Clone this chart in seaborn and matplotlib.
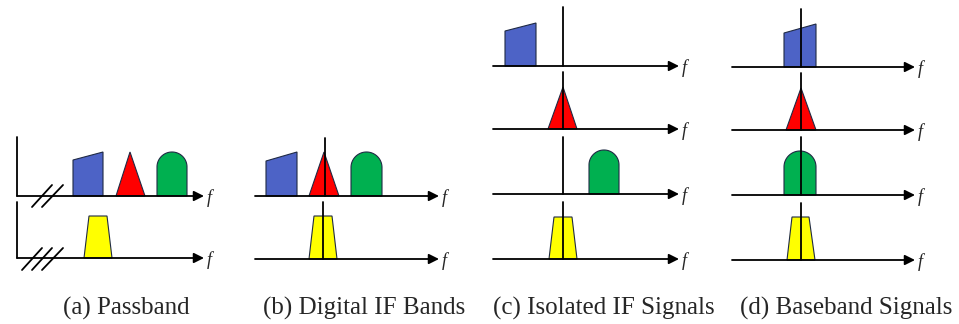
import numpy as np
import pandas as pd
import seaborn as sns
import matplotlib.pyplot as plt
from matplotlib.patches import Polygon

sns.set_theme(style="white")

# captions under each panel
captions = ["(a) Passband", "(b) Digital IF Bands", "(c) Isolated IF Signals", "(d) Baseband Signals"]
caption_x = [126, 364, 604, 846]

# frequency axes: baseline y, start x, end x  (pixel space of the figure)
axis_y = [196, 258, 196, 259, 66, 129, 194, 259, 67, 130, 195, 260]
axis_x0 = [17, 17, 255, 255, 493, 493, 493, 493, 732, 732, 732, 732]
axis_x1 = [204, 204, 439, 439, 679, 679, 679, 679, 915, 915, 915, 915]

# zero-frequency (and left axis) vertical markers: x, top, bottom
vline_x = [17, 17, 325, 323, 563, 563, 563, 563, 801, 801, 801, 801]
vline_top = [137, 202, 138, 202, 7, 72, 137, 202, 9, 73, 137, 203]
vline_bot = [196, 258, 196, 259, 66, 129, 194, 259, 67, 130, 195, 260]

# axis-break slashes in panel (a): x start, y start, x end, y end
brk_x0 = [32, 42, 22, 32, 42]
brk_y0 = [207, 207, 270, 270, 270]
brk_x1 = [52, 63, 42, 52, 63]
brk_y1 = [185, 185, 248, 248, 248]

# blue band (sloped trapezoid): left, right, top-left, top-right, base
blue_l = [73, 266, 505, 784]
blue_r = [103, 297, 536, 816]
blue_tl = [160, 161, 31, 33]
blue_tr = [152, 152, 23, 24]
blue_b = [196, 196, 66, 67]

# red band (triangle): left, right, apex x, apex y, base
red_l = [116, 309, 548, 786]
red_r = [145, 339, 577, 816]
red_ax = [130, 324, 563, 801]
red_ay = [152, 152, 87, 88]
red_b = [196, 196, 129, 130]

# green band (arch): left, right, top, base
grn_l = [157, 351, 589, 784]
grn_r = [187, 382, 619, 816]
grn_t = [152, 152, 150, 151]
grn_b = [196, 196, 194, 195]

# yellow band (trapezoid): bottom left/right, top left/right, top y, base
yel_bl = [84, 309, 549, 787]
yel_br = [112, 337, 577, 815]
yel_tl = [89, 314, 554, 792]
yel_tr = [107, 332, 572, 809]
yel_t = [216, 216, 217, 217]
yel_b = [258, 259, 259, 260]

fig = plt.figure(figsize=(9.59, 3.24), dpi=100)
ax = fig.add_axes([0, 0, 1, 1])
ax.set_xlim(0, 959)
ax.set_ylim(324, 0)
ax.axis("off")

edge = "#1f2a44"
for i in range(len(blue_l)):
    ax.add_patch(Polygon([(blue_l[i], blue_b[i]), (blue_l[i], blue_tl[i]),
                          (blue_r[i], blue_tr[i]), (blue_r[i], blue_b[i])],
                         closed=True, fc="#4d63c6", ec=edge, lw=0.8, zorder=2))
    ax.add_patch(Polygon([(red_l[i], red_b[i]), (red_ax[i], red_ay[i]), (red_r[i], red_b[i])],
                         closed=True, fc="#ff0000", ec=edge, lw=0.8, zorder=2))
    r = (grn_r[i] - grn_l[i]) / 2
    c = grn_l[i] + r
    t = np.linspace(np.pi, 0, 60)
    arc = list(zip(c + r * np.cos(t), grn_t[i] + r - r * np.sin(t)))
    ax.add_patch(Polygon([(grn_l[i], grn_b[i])] + arc + [(grn_r[i], grn_b[i])],
                         closed=True, fc="#00b050", ec=edge, lw=0.8, zorder=2))
    ax.add_patch(Polygon([(yel_bl[i], yel_b[i]), (yel_tl[i], yel_t[i]),
                          (yel_tr[i], yel_t[i]), (yel_br[i], yel_b[i])],
                         closed=True, fc="#ffff00", ec=edge, lw=0.8, zorder=2))

# line segments via seaborn
rows = []
k = 0
for y, x0, x1 in zip(axis_y, axis_x0, axis_x1):
    rows += [(k, x0, y), (k, x1 - 5, y)]
    k += 1
for x, t0, t1 in zip(vline_x, vline_top, vline_bot):
    rows += [(k, x, t0), (k, x, t1)]
    k += 1
for a, b, c2, d in zip(brk_x0, brk_y0, brk_x1, brk_y1):
    rows += [(k, a, b), (k, c2, d)]
    k += 1
segs = pd.DataFrame(rows, columns=["seg", "x", "y"])
sns.lineplot(data=segs, x="x", y="y", units="seg", estimator=None, sort=False,
             color="black", lw=1.3, ax=ax, zorder=3)
ax.set_xlim(0, 959)
ax.set_ylim(324, 0)
ax.axis("off")

for y, x0, x1 in zip(axis_y, axis_x0, axis_x1):
    ax.annotate("", xy=(x1, y), xytext=(x1 - 8, y),
                arrowprops=dict(arrowstyle="-|>,head_length=0.5,head_width=0.25",
                                mutation_scale=12, lw=1.3, color="black",
                                shrinkA=0, shrinkB=0), zorder=3)
    ax.text(x1 + 3, y + 2, "f", fontsize=13, style="italic", family="Liberation Serif",
            ha="left", va="center")

for cx, s in zip(caption_x, captions):
    ax.text(cx, 308, s, fontsize=18, family="Liberation Serif", ha="center", va="center")

fig.savefig("out.png", dpi=100)
